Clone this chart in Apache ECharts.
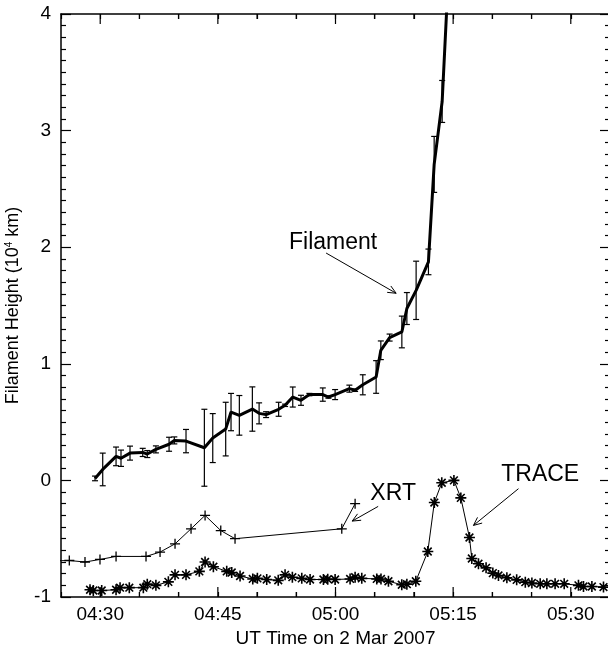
<!DOCTYPE html>
<html><head><meta charset="utf-8">
<script src="https://cdn.jsdelivr.net/npm/echarts@6/dist/echarts.min.js"></script>
<style>html,body{margin:0;padding:0;background:#fff}#c{width:608px;height:645px}</style>
</head><body><div id="c"></div>
<script>
// time values: minutes after 04:00 UT on 2 Mar 2007
const filamentTime = [29.34,30.32,32.02,32.65,33.8,35.42,36.0,37.1,38.78,39.45,40.94,43.28,44.35,46.0,46.68,47.74,49.4,50.26,51.15,52.75,53.57,54.55,55.6,56.67,58.38,59.1,59.95,61.77,62.5,63.48,65.18,65.78,66.9,68.46,69.1,70.28,71.85,72.58,73.6,74.7];
const filamentHeight = [0.017,0.094,0.206,0.19,0.234,0.24,0.226,0.266,0.31,0.343,0.337,0.28,0.363,0.44,0.586,0.558,0.612,0.575,0.564,0.61,0.644,0.715,0.687,0.736,0.736,0.715,0.736,0.787,0.773,0.82,0.887,1.116,1.225,1.273,1.474,1.63,1.874,2.71,3.25,4.75];
const filamentError = [0.02,0.14,0.08,0.07,0.06,0.035,0.03,0.03,0.06,0.03,0.1,0.33,0.21,0.23,0.16,0.17,0.19,0.09,0.025,0.06,0.01,0.086,0.043,0.01,0.057,0.01,0.043,0.03,0.01,0.086,0.14,0.08,0.03,0.136,0.137,0.25,0.11,0.24,0.18,0];

const xrtTime = [24.0,26.06,28.06,29.97,32.02,35.84,37.63,39.54,41.58,43.37,45.37,47.19,60.8,62.5];
const xrtValue = [-0.69,-0.687,-0.70,-0.678,-0.652,-0.652,-0.615,-0.544,-0.415,-0.30,-0.43,-0.50,-0.415,-0.20];

const traceTime = [28.7,29.12,30.19,32.02,32.53,33.71,35.5,36.0,37.1,38.69,39.54,40.94,42.64,43.37,44.43,46.13,46.77,47.83,49.45,50.04,51.23,52.7,53.57,54.5,55.7,56.76,58.46,59.01,59.95,61.86,62.5,63.35,65.26,65.8,66.75,68.45,69.1,70.24,71.77,72.6,73.55,75.1,75.98,77.08,77.38,78.23,79.2,80.06,80.78,81.85,83.1,84.2,85.04,86.1,86.95,88.0,89.16,90.98,91.62,92.69,94.17];
const traceValue = [-0.938,-0.944,-0.944,-0.938,-0.92,-0.92,-0.92,-0.89,-0.90,-0.87,-0.81,-0.81,-0.78,-0.70,-0.74,-0.78,-0.79,-0.82,-0.845,-0.84,-0.85,-0.857,-0.81,-0.83,-0.84,-0.85,-0.85,-0.847,-0.85,-0.845,-0.83,-0.84,-0.845,-0.845,-0.865,-0.895,-0.89,-0.865,-0.61,-0.19,-0.02,0.0,-0.15,-0.49,-0.67,-0.715,-0.75,-0.795,-0.815,-0.835,-0.853,-0.873,-0.88,-0.887,-0.887,-0.887,-0.887,-0.90,-0.91,-0.91,-0.915];

const xTickValues = [30,45,60,75,90];
const xTickLabels = ['04:30','04:45','05:00','05:15','05:30'];
const xMinorTickValues = [35,40,50,55,65,70,80,85];
const yTickLabels = ['-1','0','1','2','3','4'];

// annotation labels with arrows (in data coordinates)
const annText = ['Filament','XRT','TRACE'];
const annTextPos = [[59.7,2.04],[67.35,-0.112],[86.1,0.05]];
const annArrowFrom = [[58.8,1.95],[65.44,-0.223],[83.33,-0.071]];
const annArrowTo = [[67.73,1.605],[62.13,-0.349],[77.59,-0.386]];

const X_MIN = 25, X_MAX = 95, Y_MIN = -1, Y_MAX = 4;
const FONT = 'Liberation Sans, Arial, Helvetica, sans-serif';
const chart = echarts.init(document.getElementById('c'), null, {renderer:'canvas'});

function xLabel(v){ const i = xTickValues.indexOf(Math.round(v*1000)/1000); return i>=0 ? xTickLabels[i] : ''; }
function yLabel(v){ const i = Math.round(v)+1; return (Math.abs(v-Math.round(v))<1e-6 && i>=0 && i<yTickLabels.length) ? yTickLabels[i] : ''; }

const lineC = '#000';
function xAx(pos, showLabel){
  return {
    type:'value', position:pos, min:X_MIN, max:X_MAX, interval:5,
    axisLine:{show:true, onZero:false, lineStyle:{color:lineC,width:1.5}},
    axisTick:{show:true, inside:true, length:5, lineStyle:{color:lineC,width:1.2}},
    axisLabel:{show:showLabel, customValues:xTickValues, formatter:xLabel, color:'#000', fontSize:19, fontFamily:FONT, margin:8},
    splitLine:{show:false},
    name: showLabel ? 'UT Time on 2 Mar 2007' : '',
    nameLocation:'middle', nameGap:29,
    nameTextStyle:{color:'#000', fontSize:19, fontFamily:FONT}
  };
}
function yAx(pos, showLabel){
  return {
    type:'value', position:pos, min:Y_MIN, max:Y_MAX, interval:1,
    axisLine:{show:true, onZero:false, lineStyle:{color:lineC,width:1.5}},
    axisTick:{show:true, inside:true, length:10, lineStyle:{color:lineC,width:1.2}},
    minorTick:{show:true, splitNumber:10, length:5, lineStyle:{color:lineC,width:1.2}},
    axisLabel:{show:showLabel, formatter:yLabel, color:'#000', fontSize:19, fontFamily:FONT, margin:10},
    splitLine:{show:false},
    name: showLabel ? '{a|Filament Height (10}{s|4}{a| km)}' : '',
    nameLocation:'middle', nameGap:39, nameRotate:90,
    nameTextStyle:{color:'#000', fontFamily:FONT, rich:{
      a:{fontSize:18, lineHeight:18, fontFamily:FONT, color:'#000'},
      s:{fontSize:10, lineHeight:10, verticalAlign:'top', fontFamily:FONT, color:'#000'}
    }}
  };
}

const plusSym = 'path://M5,0L5,10M0,5L10,5';
const starSym = 'path://M5,0L5,10M0,5L10,5M1.5,1.5L8.5,8.5M1.5,8.5L8.5,1.5';

// tick marks of the time axis: [value, bottom of frame, top of frame, tick length]
const xTickMarks = xTickValues.map(v=>[v, Y_MIN, Y_MAX, 10]).concat(xMinorTickValues.map(v=>[v, Y_MIN, Y_MAX, 5]));

const option = {
  animation:false,
  backgroundColor:'#fff',
  grid:{left:61, top:14, width:549, height:583, outerBoundsMode:'none', containLabel:false},
  xAxis:[xAx('bottom',true), xAx('top',false)],
  yAxis:[yAx('left',true), yAx('right',false)],
  series:[
    {
      type:'line', name:'XRT', xAxisIndex:0, yAxisIndex:0, clip:true,
      data: xrtTime.map((t,i)=>[t, xrtValue[i]]),
      symbol:plusSym, symbolSize:10, showSymbol:true,
      itemStyle:{color:'none', borderColor:'#000', borderWidth:1.3},
      lineStyle:{color:'#000', width:1}, silent:true
    },
    {
      type:'line', name:'TRACE', xAxisIndex:0, yAxisIndex:0, clip:true,
      data: traceTime.map((t,i)=>[t, traceValue[i]]),
      symbol:starSym, symbolSize:11, showSymbol:true,
      itemStyle:{color:'none', borderColor:'#000', borderWidth:1.6},
      lineStyle:{color:'#000', width:1}, silent:true
    },
    {
      type:'custom', name:'errors', xAxisIndex:0, yAxisIndex:0, clip:true, silent:true,
      data: filamentTime.map((t,i)=>[t, filamentHeight[i]-filamentError[i], filamentHeight[i]+filamentError[i]]),
      encode:{x:0, y:[1,2]},
      renderItem:function(params, api){
        const t = api.value(0);
        const p1 = api.coord([t, api.value(1)]);
        const p2 = api.coord([t, api.value(2)]);
        if (Math.abs(p1[1]-p2[1]) < 0.5) return null;
        const w = 3, st = {stroke:'#000', lineWidth:1.2};
        return {type:'group', children:[
          {type:'line', shape:{x1:p1[0],y1:p1[1],x2:p2[0],y2:p2[1]}, style:st},
          {type:'line', shape:{x1:p1[0]-w,y1:p1[1],x2:p1[0]+w,y2:p1[1]}, style:st},
          {type:'line', shape:{x1:p2[0]-w,y1:p2[1],x2:p2[0]+w,y2:p2[1]}, style:st}
        ]};
      }
    },
    {
      type:'custom', name:'timeTicks', xAxisIndex:0, yAxisIndex:0, clip:true, silent:true, z:20,
      data: xTickMarks,
      encode:{x:0, y:[1,2]},
      renderItem:function(params, api){
        const v = api.value(0), len = api.value(3);
        const b = api.coord([v, api.value(1)]);
        const t = api.coord([v, api.value(2)]);
        const st = {stroke:'#000', lineWidth:1.2};
        return {type:'group', children:[
          {type:'line', shape:{x1:b[0],y1:b[1],x2:b[0],y2:b[1]-len}, style:st},
          {type:'line', shape:{x1:t[0],y1:t[1],x2:t[0],y2:t[1]+len}, style:st}
        ]};
      }
    },
    {
      type:'line', name:'Filament', xAxisIndex:0, yAxisIndex:0, clip:true,
      data: filamentTime.map((t,i)=>[t, filamentHeight[i]]),
      showSymbol:false, symbol:'none',
      lineStyle:{color:'#000', width:3}, silent:true, z:5
    },
    {
      type:'custom', name:'annotations', xAxisIndex:0, yAxisIndex:0, clip:false, silent:true,
      data: annText.map((s,i)=>[annTextPos[i][0],annTextPos[i][1],annArrowFrom[i][0],annArrowFrom[i][1],annArrowTo[i][0],annArrowTo[i][1]]),
      encode:{x:[0,2,4], y:[1,3,5]},
      renderItem:function(params, api){
        const i = params.dataIndex;
        const tp = api.coord([api.value(0), api.value(1)]);
        const a = api.coord([api.value(2), api.value(3)]);
        const b = api.coord([api.value(4), api.value(5)]);
        const ang = Math.atan2(b[1]-a[1], b[0]-a[0]);
        const L = 9, th = 0.42;
        const h1 = [b[0]-L*Math.cos(ang-th), b[1]-L*Math.sin(ang-th)];
        const h2 = [b[0]-L*Math.cos(ang+th), b[1]-L*Math.sin(ang+th)];
        const st = {stroke:'#000', lineWidth:1};
        return {type:'group', children:[
          {type:'text', x:tp[0], y:tp[1], style:{text:annText[i], fill:'#000', font:'23px '+FONT, align:'center', verticalAlign:'middle'}},
          {type:'line', shape:{x1:a[0],y1:a[1],x2:b[0],y2:b[1]}, style:st},
          {type:'polyline', shape:{points:[h1,b,h2]}, style:{stroke:'#000', lineWidth:1, fill:null}}
        ]};
      }
    }
  ]
};
chart.setOption(option);
</script>
</body></html>
